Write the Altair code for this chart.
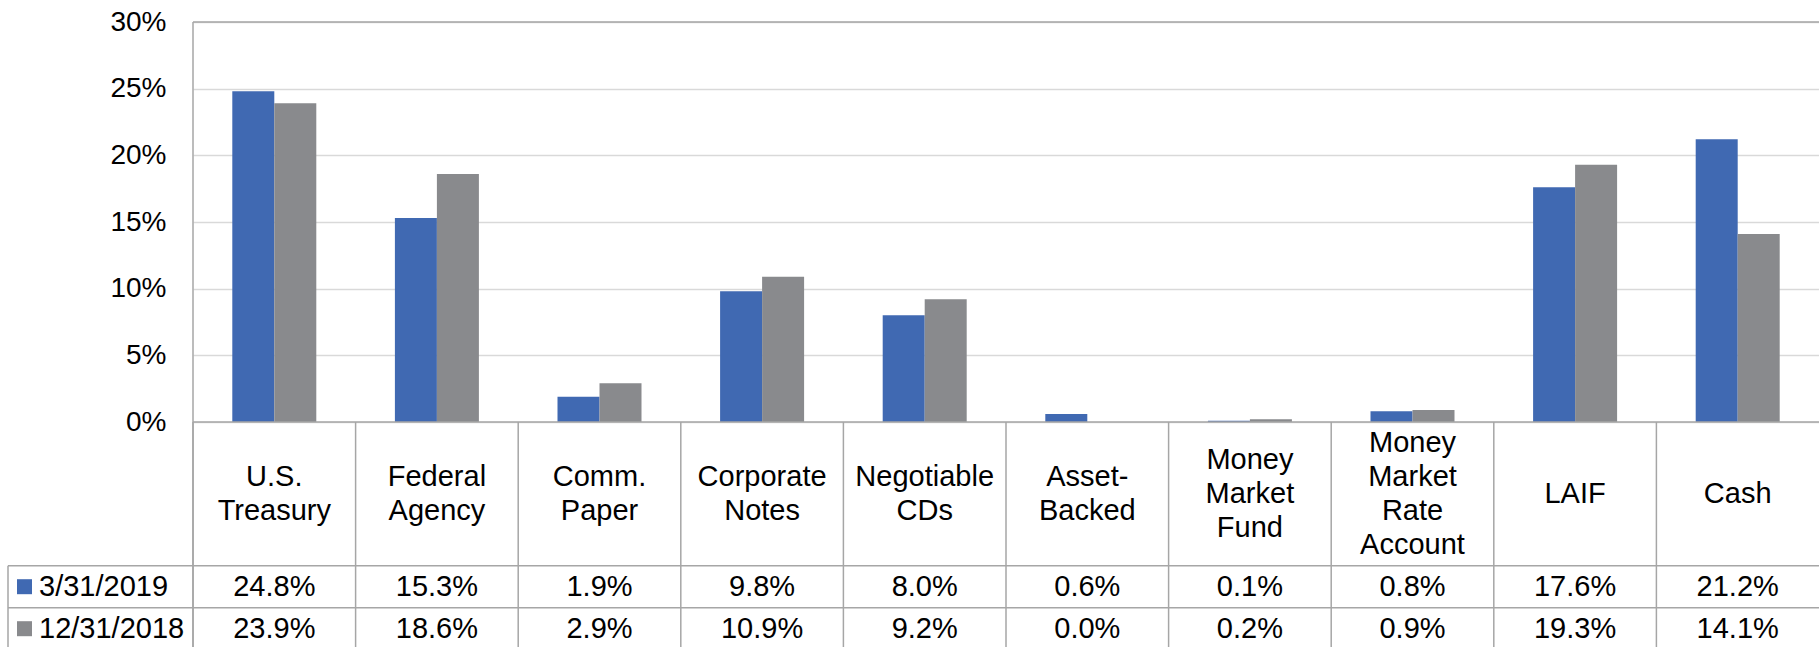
import altair as alt
import pandas as pd

# ---- data ----
categories = ["U.S. Treasury", "Federal Agency", "Comm. Paper", "Corporate Notes",
              "Negotiable CDs", "Asset-Backed", "Money Market Fund",
              "Money Market Rate Account", "LAIF", "Cash"]
header_labels = ["U.S.\nTreasury", "Federal\nAgency", "Comm.\nPaper", "Corporate\nNotes",
                 "Negotiable\nCDs", "Asset-\nBacked", "Money\nMarket\nFund",
                 "Money\nMarket\nRate\nAccount", "LAIF", "Cash"]
series = ["3/31/2019", "12/31/2018"]
mar_2019 = [24.8, 15.3, 1.9, 9.8, 8.0, 0.6, 0.1, 0.8, 17.6, 21.2]
dec_2018 = [23.9, 18.6, 2.9, 10.9, 9.2, 0.0, 0.2, 0.9, 19.3, 14.1]
y_ticks = [0, 5, 10, 15, 20, 25, 30]

# ---- style / layout ----
colors = ["#4069B2", "#898A8D"]
FONT = "Liberation Sans, Arial, Helvetica, sans-serif"
FS = 29
LINE_H = 34
LINE = "#A6A6A6"
GRID = "#D9D9D9"
PLOT_W = 1626          # plot area width
BAR_H = 400            # height of the column area
HDR_H = 143.7          # height of the category header row of the data table
ROW_H = 42             # height of each value row
TOTAL_H = 625
LEG_W = 185            # width of the legend column left of the plot

values = pd.DataFrame({
    "category": categories * 2,
    "series": [series[0]] * len(categories) + [series[1]] * len(categories),
    "value": mar_2019 + dec_2018,
})
header = pd.DataFrame({"category": categories, "label": header_labels})
legend_rows = pd.DataFrame({"series": series})
one = pd.DataFrame({"k": [0]})

x_scale = alt.Scale(domain=categories, paddingInner=0, paddingOuter=0)
row_scale = alt.Scale(domain=series, range=[BAR_H + HDR_H, BAR_H + HDR_H + 2 * ROW_H],
                      paddingInner=0, paddingOuter=0)
color_scale = alt.Scale(domain=series, range=colors)

x_cat = alt.X("category:N", scale=x_scale, sort=categories, axis=None)
y_row = alt.Y("series:N", scale=row_scale, sort=series, axis=None)

bars = alt.Chart(values).mark_bar().encode(
    x=x_cat,
    xOffset=alt.XOffset("series:N", sort=series,
                        scale=alt.Scale(domain=series, paddingInner=0, paddingOuter=0.9357)),
    y=alt.Y("value:Q",
            scale=alt.Scale(domain=[0, 30], range=[BAR_H, 0], nice=False),
            axis=alt.Axis(values=y_ticks, labelExpr="datum.value + '%'", title=None,
                          ticks=False, domain=False, grid=True, gridColor=GRID,
                          gridWidth=1.5, labelFontSize=28, labelFont=FONT,
                          labelColor="black", labelPadding=27)),
    color=alt.Color("series:N", scale=color_scale, legend=None),
)

rule_style = dict(color=LINE, strokeWidth=1.5)

# plot area top edge and left edge (left edge continues through the table)
top_edge = alt.Chart(one).mark_rule(**rule_style).encode(
    x=alt.value(0), x2=alt.value(PLOT_W), y=alt.value(0))
left_edge = alt.Chart(one).mark_rule(**rule_style).encode(
    x=alt.value(0), y=alt.value(0), y2=alt.value(TOTAL_H + 6))
baseline = alt.Chart(one).mark_rule(**rule_style).encode(
    x=alt.value(0), x2=alt.value(PLOT_W), y=alt.value(BAR_H))

# data table cell borders
col_lines = alt.Chart(header).mark_rule(**rule_style).encode(
    x=alt.X("category:N", scale=x_scale, sort=categories, axis=None, bandPosition=0),
    y=alt.value(BAR_H), y2=alt.value(TOTAL_H + 6))
row_lines = alt.Chart(legend_rows).mark_rule(**rule_style).encode(
    y=alt.Y("series:N", scale=row_scale, sort=series, axis=None, bandPosition=0),
    x=alt.value(-LEG_W), x2=alt.value(PLOT_W))
legend_edge = alt.Chart(one).mark_rule(**rule_style).encode(
    x=alt.value(-LEG_W), y=alt.value(BAR_H + HDR_H), y2=alt.value(TOTAL_H + 6))

# header row with category names, each block vertically centred in the row
header_layers = []
for n in (1, 2, 3, 4):
    header_layers.append(
        alt.Chart(header).transform_filter(
            f"length(split(datum.label, '\\n')) == {n}"
        ).mark_text(
            font=FONT, fontSize=FS, lineBreak="\n", lineHeight=LINE_H,
            baseline="middle", color="black", dy=-(n - 1) * LINE_H / 2
        ).encode(x=x_cat, y=alt.value(BAR_H + HDR_H / 2), text="label:N")
    )

# value rows
value_text = alt.Chart(values).transform_calculate(
    label="format(datum.value, '.1f') + '%'"
).mark_text(font=FONT, fontSize=FS, baseline="middle", color="black").encode(
    x=x_cat, y=y_row, text="label:N")

# legend column: colour swatch + series name
swatch = alt.Chart(legend_rows).mark_square(size=225, opacity=1).encode(
    x=alt.value(-LEG_W + 16.5), y=y_row,
    color=alt.Color("series:N", scale=color_scale, legend=None))
legend_text = alt.Chart(legend_rows).mark_text(
    font=FONT, fontSize=FS, baseline="middle", align="left", color="black"
).encode(x=alt.value(-LEG_W + 31), y=y_row, text="series:N")

chart = alt.layer(
    bars, top_edge, baseline, col_lines, row_lines, legend_edge, left_edge,
    *header_layers, value_text, swatch, legend_text
).resolve_scale(y="independent").properties(
    width=PLOT_W, height=TOTAL_H,
    autosize=alt.AutoSizeParams(type="none"),
    padding={"left": 193, "top": 22, "right": 0, "bottom": 0},
    background="white",
).configure_view(stroke=None)

chart.save("out.html", embed_options={"renderer": "svg", "actions": False})
